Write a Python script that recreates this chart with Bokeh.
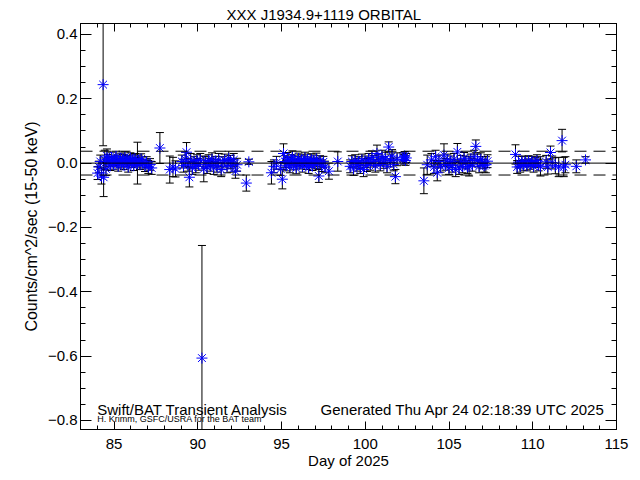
from bokeh.plotting import figure
from bokeh.models import Range1d, LinearAxis, FixedTicker, Span, Label, ColumnDataSource
from bokeh.embed import file_html
from bokeh.resources import INLINE

title_text = "XXX J1934.9+1119 ORBITAL"
x_label = "Day of 2025"
y_label = "Counts/cm^2/sec (15-50 keV)"
note_left = "Swift/BAT Transient Analysis"
note_right = "Generated Thu Apr 24 02:18:39 UTC 2025"
note_small = "H. Krimm, GSFC/USRA for the BAT team"

x_ticks = [85, 90, 95, 100, 105, 110, 115]
x_minor = list(range(83, 116))
y_ticks = [-0.8, -0.6, -0.4, -0.2, 0.0, 0.2, 0.4]
y_tick_labels = ["\u22120.8", "\u22120.6", "\u22120.4", "\u22120.2", "0.0", "0.2", "0.4"]
y_minor = [round(-0.8 + 0.05 * i, 2) for i in range(0, 26)]
sigma_level = 0.037

days = [
    84.02, 84.10, 84.18, 84.25, 84.35, 84.38, 84.45, 84.52, 84.58,
    84.65, 84.72, 84.78, 84.85, 84.92, 84.98, 85.05, 85.12, 85.18, 85.25,
    85.32, 85.38, 85.45, 85.52, 85.58, 85.65, 85.72, 85.78, 85.85, 85.92,
    85.98, 86.05, 86.12, 86.18, 86.25, 86.32, 86.40, 86.48, 86.55, 86.62, 86.70,
    86.85, 86.95, 87.05, 87.15, 87.25, 87.74,
    88.33, 88.52, 88.67,
    89.05, 89.15, 89.25, 89.33, 89.42, 89.50, 89.58, 89.68, 89.78, 89.88, 89.95,
    90.05, 90.15, 90.25, 90.36, 90.45, 90.55, 90.65, 90.75, 90.85, 90.95,
    91.05, 91.15, 91.25, 91.40, 91.50, 91.60, 91.75, 91.85, 91.95, 92.05,
    92.15, 92.25, 92.35, 92.90, 93.05,
    94.40, 94.55, 94.70,
    94.95, 95.05, 95.12, 95.20, 95.28, 95.35, 95.42, 95.50, 95.58, 95.65,
    95.72, 95.80, 95.88, 95.95, 96.02, 96.10, 96.18, 96.25, 96.32, 96.40,
    96.48, 96.55, 96.62, 96.70, 96.78, 96.85, 96.92, 97.00, 97.08, 97.15,
    97.23, 97.30, 97.40, 97.50, 97.60, 97.83, 98.36,
    99.10, 99.20, 99.30, 99.40, 99.50, 99.60, 99.70, 99.80, 99.90, 100.00,
    100.10, 100.20, 100.30, 100.40, 100.50, 100.60, 100.70, 100.80, 100.90, 101.00,
    101.10, 101.20, 101.30, 101.40, 101.50, 101.60, 101.70, 101.80, 101.90,
    102.25, 102.30, 102.35, 102.40, 102.45,
    103.50, 103.70, 103.95, 104.10, 104.20, 104.30, 104.40, 104.50, 104.70, 104.80,
    104.90, 105.00, 105.10, 105.20, 105.30, 105.40, 105.50, 105.60, 105.70, 105.80,
    105.90, 106.00, 106.10, 106.20, 106.30, 106.40, 106.50, 106.60, 106.70, 106.80,
    106.90, 107.00, 107.10, 107.20, 107.30,
    108.97, 109.07, 109.15, 109.25, 109.35, 109.45, 109.55, 109.65, 109.75, 109.85,
    109.95, 110.05, 110.15, 110.25, 110.35, 110.46,
    110.80, 110.90, 111.06, 111.16, 111.35, 111.55, 111.75, 111.85, 111.95,
    112.60, 113.15,
]

rates = [
    -0.031, -0.012, 0.005, -0.040, 0.244, -0.044, 0.010, -0.018, 0.022,
    0.012, 0.003, -0.008, 0.018, 0.006, -0.004, 0.010, 0.021, 0.002, -0.010,
    0.008, 0.015, 0.000, 0.012, -0.006, 0.019, 0.004, 0.010, -0.012, 0.007,
    0.016, 0.001, 0.011, -0.008, 0.014, 0.003, 0.000, 0.009, -0.005, 0.013, 0.002,
    -0.008, 0.004, -0.012, -0.004, -0.015, 0.047,
    -0.020, -0.012, -0.018,
    0.005, -0.008, 0.012, 0.034, -0.005, -0.044, 0.010, -0.015, 0.002, -0.010, 0.008,
    -0.004, 0.010, -0.606, -0.018, 0.002, -0.012, 0.008, -0.005, 0.012, -0.015,
    0.003, -0.008, 0.010, -0.020, 0.000, 0.008, -0.010, 0.015, 0.004, -0.008,
    0.010, -0.025, -0.005, -0.062, 0.004,
    -0.030, -0.010, 0.001,
    -0.018, -0.050, 0.030, 0.005, -0.008, 0.015, 0.002, -0.012, 0.010, 0.020,
    -0.005, 0.008, -0.015, 0.004, 0.014, -0.002, 0.009, -0.010, 0.006, 0.016,
    -0.004, 0.011, -0.014, 0.003, 0.012, -0.007, 0.008, -0.002, 0.013, 0.000,
    -0.040, 0.006, -0.008, 0.004, -0.012, -0.025, 0.005,
    -0.010, 0.005, -0.018, 0.008, -0.005, 0.002, -0.012, 0.010, -0.020, 0.004,
    -0.006, 0.012, -0.002, 0.018, 0.006, -0.008, 0.030, 0.010, -0.004, 0.020,
    0.002, 0.014, -0.010, 0.050, 0.008, 0.022, -0.004, -0.042, 0.012,
    0.018, 0.012, 0.022, 0.008, 0.016,
    -0.055, -0.005, 0.010, -0.012, 0.020, -0.030, 0.005, -0.010, 0.025, -0.004,
    0.010, -0.015, 0.004, -0.008, 0.012, -0.020, 0.035, -0.015, 0.006, -0.010,
    0.015, 0.002, -0.012, -0.010, 0.010, -0.005, 0.020, 0.052, 0.008, -0.010,
    0.012, 0.002, -0.008, -0.005, 0.006,
    0.027, -0.012, 0.003, -0.010, 0.006, -0.006, 0.004, -0.008, 0.007, -0.003,
    0.005, -0.010, 0.002, 0.008, -0.006, -0.010,
    0.004, -0.012, 0.033, 0.002, -0.008, -0.012, 0.070, -0.012, -0.005,
    -0.010, 0.010,
]

errors = [
    0.020, 0.018, 0.020, 0.025, 0.190, 0.060, 0.030, 0.020, 0.022,
    0.015, 0.014, 0.015, 0.016, 0.014, 0.015, 0.015, 0.016, 0.014, 0.015,
    0.014, 0.016, 0.015, 0.015, 0.014, 0.016, 0.015, 0.014, 0.016, 0.015,
    0.016, 0.014, 0.015, 0.015, 0.016, 0.015, 0.065, 0.016, 0.015, 0.016, 0.017,
    0.018, 0.016, 0.020, 0.018, 0.020, 0.048,
    0.042, 0.030, 0.025,
    0.020, 0.020, 0.022, 0.030, 0.020, 0.030, 0.020, 0.020, 0.018, 0.020, 0.018,
    0.018, 0.020, 0.350, 0.040, 0.018, 0.020, 0.018, 0.020, 0.020, 0.020,
    0.018, 0.020, 0.020, 0.022, 0.020, 0.020, 0.020, 0.022, 0.020, 0.020,
    0.020, 0.022, 0.020, 0.025, 0.008,
    0.035, 0.020, 0.020,
    0.020, 0.030, 0.030, 0.018, 0.016, 0.018, 0.016, 0.018, 0.016, 0.018,
    0.016, 0.017, 0.018, 0.016, 0.017, 0.016, 0.017, 0.018, 0.016, 0.018,
    0.016, 0.017, 0.018, 0.016, 0.017, 0.016, 0.017, 0.016, 0.018, 0.016,
    0.020, 0.017, 0.018, 0.017, 0.018, 0.025, 0.030,
    0.020, 0.018, 0.020, 0.018, 0.020, 0.018, 0.020, 0.018, 0.022, 0.018,
    0.020, 0.018, 0.020, 0.020, 0.018, 0.020, 0.026, 0.018, 0.020, 0.020,
    0.018, 0.020, 0.020, 0.016, 0.020, 0.020, 0.020, 0.022, 0.020,
    0.014, 0.015, 0.014, 0.015, 0.014,
    0.040, 0.030, 0.020, 0.020, 0.020, 0.025, 0.020, 0.018, 0.035, 0.018,
    0.018, 0.020, 0.018, 0.020, 0.018, 0.022, 0.026, 0.020, 0.018, 0.020,
    0.018, 0.020, 0.020, 0.030, 0.018, 0.020, 0.020, 0.020, 0.020, 0.020,
    0.020, 0.018, 0.020, 0.025, 0.020,
    0.030, 0.020, 0.018, 0.018, 0.016, 0.016, 0.016, 0.016, 0.016, 0.016,
    0.016, 0.018, 0.016, 0.018, 0.018, 0.030,
    0.020, 0.022, 0.020, 0.020, 0.025, 0.030, 0.035, 0.030, 0.025,
    0.020, 0.010,
]

lower = [r - e for r, e in zip(rates, errors)]
upper = [r + e for r, e in zip(rates, errors)]
src = ColumnDataSource(dict(x=days, y=rates, lo=lower, hi=upper))

FONT = "Liberation Sans"

p = figure(width=640, height=480, x_range=Range1d(83, 115), y_range=Range1d(-0.828, 0.434),
           output_backend="svg", toolbar_location=None,
           min_border_left=80, min_border_right=24, min_border_top=23, min_border_bottom=51)
p.background_fill_color = "white"
p.border_fill_color = "white"
p.outline_line_color = "black"
p.grid.visible = False

p.title.text = title_text
p.title.align = "left"
p.title.offset = 146
p.title.standoff = 2
p.title.text_font = FONT
p.title.text_font_size = "15px"
p.title.text_font_style = "normal"
p.title.text_color = "black"

xa = p.xaxis[0]
xa.ticker = FixedTicker(ticks=x_ticks, minor_ticks=x_minor)
xa.major_tick_in = 8
xa.major_tick_out = 0
xa.minor_tick_in = 4
xa.minor_tick_out = 0
xa.axis_label = x_label
xa.axis_label_text_font = FONT
xa.axis_label_text_font_size = "15px"
xa.axis_label_text_font_style = "normal"
xa.axis_label_text_color = "black"
xa.axis_label_standoff = 0
xa.major_label_text_font = FONT
xa.major_label_text_font_size = "15px"
xa.major_label_text_color = "black"
xa.major_label_standoff = 9
xa.axis_line_color = "black"
xa.major_tick_line_color = "black"
xa.minor_tick_line_color = "black"

ya = p.yaxis[0]
ya.ticker = FixedTicker(ticks=y_ticks, minor_ticks=y_minor)
ya.major_label_overrides = {t: l for t, l in zip(y_ticks, y_tick_labels)}
ya.major_tick_in = 11
ya.major_tick_out = 0
ya.minor_tick_in = 5
ya.minor_tick_out = 0
ya.axis_label = y_label
ya.axis_label_text_font = FONT
ya.axis_label_text_font_size = "16px"
ya.axis_label_text_font_style = "normal"
ya.axis_label_text_color = "black"
ya.axis_label_standoff = 5
ya.major_label_text_font = FONT
ya.major_label_text_font_size = "15px"
ya.major_label_text_color = "black"
ya.major_label_standoff = 3
ya.axis_line_color = "black"
ya.major_tick_line_color = "black"
ya.minor_tick_line_color = "black"

top_ax = LinearAxis(ticker=FixedTicker(ticks=x_ticks, minor_ticks=x_minor),
                    major_tick_in=8, major_tick_out=0, minor_tick_in=4, minor_tick_out=0,
                    major_label_text_color=None, major_label_text_font_size="0px",
                    major_label_standoff=0)
right_ax = LinearAxis(ticker=FixedTicker(ticks=y_ticks, minor_ticks=y_minor),
                      major_tick_in=11, major_tick_out=0, minor_tick_in=5, minor_tick_out=0,
                      major_label_text_color=None, major_label_text_font_size="0px",
                      major_label_standoff=0)
p.add_layout(top_ax, "above")
p.add_layout(right_ax, "right")

# reference lines
p.add_layout(Span(location=0, dimension="width", line_color="black", line_width=1))
p.add_layout(Span(location=sigma_level, dimension="width", line_color="black", line_width=1, line_dash="12 7"))
p.add_layout(Span(location=-sigma_level, dimension="width", line_color="black", line_width=1, line_dash="12 7"))

# error bars
p.segment(x0="x", y0="lo", x1="x", y1="hi", source=src, line_color="black", line_width=1)
p.scatter(x="x", y="lo", source=src, marker="dash", size=8, line_color="black", line_width=1)
p.scatter(x="x", y="hi", source=src, marker="dash", size=8, line_color="black", line_width=1)
# points
p.scatter(x="x", y="y", source=src, marker="asterisk", size=11, line_color="blue", line_width=1)

# texts inside the frame
p.add_layout(Label(x=84.0, y=-0.766, text=note_left, text_align="left", text_baseline="alphabetic",
                   text_font=FONT, text_font_size="15px", text_color="black"))
p.add_layout(Label(x=97.33, y=-0.766, text=note_right, text_align="left", text_baseline="alphabetic",
                   text_font=FONT, text_font_size="15px", text_color="black"))
p.add_layout(Label(x=84.0, y=-0.794, text=note_small, text_align="left", text_baseline="middle",
                   text_font=FONT, text_font_size="9px", text_color="black"))

open("out.html", "w").write(file_html(p, INLINE))
